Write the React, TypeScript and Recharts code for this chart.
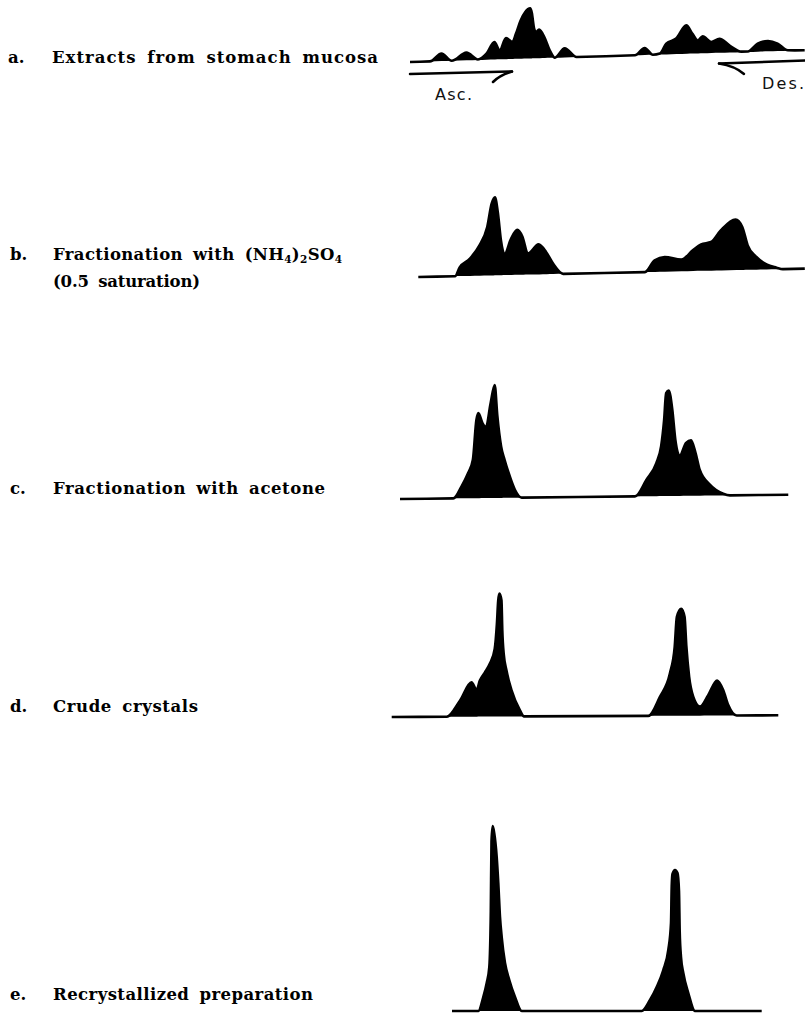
import { AreaChart, Area, XAxis, YAxis } from 'recharts'

// Migration distance (0–420 along the strip) and optical density for each stage of purification.

// a. extracts from stomach mucosa
const aDist = [25, 45, 56.7, 66.7, 81.7, 93, 101.7, 110, 115, 121.7, 128, 131.7, 136.7, 141.7, 146.7, 148.3, 150, 151.7, 155, 160, 165, 170, 180, 191.7, 250, 260, 268, 275, 281.7, 291.7, 302.3, 308, 313.3, 318.3, 326.7, 335, 345, 356.7, 363, 373, 383.3, 393, 403, 420]
const aDens = [0, 0, 7.5, 0, 7.7, 0.5, 6, 17.5, 9, 21, 17, 25, 38, 46.5, 50, 45, 30, 26, 28.5, 21, 7.6, 0, 9, 0, 0, 7, 0, 1, 10.8, 15.5, 28.5, 20, 13, 17, 11, 14, 7, 0.5, 0.5, 8, 10.4, 7.5, 0.5, 0]

// b. ammonium sulfate cut
const bDist = [33.3, 70, 75, 85, 95, 103.3, 108.3, 111.7, 114.3, 116.7, 120, 126.7, 133.3, 138.3, 143.3, 154.3, 161.7, 168.3, 178.3, 260, 270, 280, 296.7, 308.3, 316.7, 326.7, 336.7, 351.7, 358.3, 363.3, 371.7, 381.7, 391.7, 398, 420]
const bDens = [0, 0, 9, 17, 30, 48.5, 72, 78, 62, 35, 21, 36, 45, 38, 21, 30, 22, 10.5, 0, 0, 11.6, 14.6, 11.7, 20.7, 26.5, 28.6, 40, 50.5, 43, 24.5, 12.7, 5, 1.6, 0, 0]

// c. acetone cut
const cDist = [15, 68.3, 76.7, 83.3, 88.3, 92.3, 94.3, 98.3, 101.7, 106.7, 111, 113.3, 116.7, 120, 125, 130, 136.7, 250, 261.7, 271.7, 276.7, 280, 282.3, 285, 288.3, 291, 295, 301.7, 306.7, 311, 315, 325, 338.3, 345, 403.3]
const cDens = [0, 0, 12, 25, 38.5, 78.5, 85, 75, 71, 95, 113, 81.5, 51.5, 38, 21.5, 8, 0, 0, 16.6, 33, 50, 76.5, 103, 105.6, 86, 56, 40, 53, 55.4, 43, 26, 11, 1.7, 0, 0]

// d. crude crystals
const dDist = [6.7, 61.7, 75, 86.7, 91.7, 95, 100, 105, 110, 112.3, 113.7, 115, 117, 117.7, 119, 121.7, 126.7, 135, 139, 263.3, 275, 285, 290, 292.3, 296.7, 300, 301.7, 304.3, 308.3, 315, 323.3, 332.3, 338.3, 343.3, 351.7, 393.3]
const dDens = [0, 0, 16, 34.3, 26.7, 36, 44, 52.7, 67.7, 92.7, 116, 123, 116, 86, 62.7, 46, 26, 6, 0, 0, 19, 42, 69, 99, 107, 99, 69, 39, 19, 9, 20.5, 35, 25.5, 10.5, 0, 0]

// e. recrystallized
const eDist = [67, 93.3, 98.3, 101.7, 104.3, 105.8, 106.5, 107.7, 109.2, 111.7, 113.3, 115, 116.7, 120, 124.3, 130, 136.7, 256.7, 265, 271.7, 278.3, 283.3, 286, 286.7, 287.5, 290, 292.5, 294, 294.7, 296, 298.3, 303.3, 310, 376.7]
const eDens = [0, 0, 14, 28, 44, 100, 170, 185, 178, 154, 128, 94, 74, 48, 31, 14, 0, 0, 11, 24, 41, 61, 88, 125, 137, 141, 138, 120, 80, 54, 38, 18, 0, 0]

const serif = '"DejaVu Serif", serif'
const sans = '"DejaVu Sans", sans-serif'

interface StripProps {
  dist: number[]
  dens: number[]
  top: number
  height: number
  tilt: number
}

// one electrophoresis pattern; the area's own stroke along zero draws the strip baseline
function Strip({ dist, dens, top, height, tilt }: StripProps) {
  const rows = dist.map((d, i) => ({ d, v: dens[i] }))
  return (
    <div
      style={{
        position: 'absolute',
        left: 385,
        top,
        transform: `rotate(${tilt}deg)`,
        transformOrigin: `${dist[0]}px ${height - 4}px`,
      }}
    >
      <AreaChart width={420} height={height} data={rows} margin={{ top: 0, right: 0, bottom: 0, left: 0 }}>
        <XAxis type="number" dataKey="d" domain={[0, 420]} hide />
        <YAxis type="number" domain={[-4, height - 4]} hide />
        <Area
          type="monotone"
          dataKey="v"
          stroke="#000"
          strokeWidth={2.6}
          fill="#000"
          fillOpacity={1}
          dot={false}
          activeDot={false}
          isAnimationActive={false}
        />
      </AreaChart>
    </div>
  )
}

export default function App() {
  return (
    <div style={{ position: 'absolute', left: 0, top: 0, width: 805, height: 1013, overflow: 'hidden', background: '#fff' }}>
      <Strip dist={aDist} dens={aDens} top={1.7} height={64} tilt={-1.7} />
      <Strip dist={bDist} dens={bDens} top={190.7} height={90} tilt={-1.24} />
      <Strip dist={cDist} dens={cDens} top={379.3} height={124} tilt={-0.63} />
      <Strip dist={dDist} dens={dDens} top={590.7} height={130} tilt={-0.25} />
      <Strip dist={eDist} dens={eDens} top={820} height={195} tilt={0} />

      <svg width={805} height={1013} style={{ position: 'absolute', left: 0, top: 0 }}>
        <g fontFamily={serif} fontSize={16.5} fontWeight="bold" fill="#000" wordSpacing={4}>
          <text x={8} y={63.3}>a.</text>
          <text x={52} y={63.3} textLength={326} lengthAdjust="spacing">Extracts from stomach mucosa</text>

          <text x={10} y={260}>b.</text>
          <text x={53} y={260} textLength={289} lengthAdjust="spacing">
            Fractionation with (NH<tspan fontSize={10.5} dy={3}>4</tspan>
            <tspan dy={-3}>)</tspan>
            <tspan fontSize={10.5} dy={3}>2</tspan>
            <tspan dy={-3}>SO</tspan>
            <tspan fontSize={10.5} dy={3}>4</tspan>
          </text>
          <text x={53} y={287} textLength={147} lengthAdjust="spacing">(0.5 saturation)</text>

          <text x={10} y={494}>c.</text>
          <text x={53} y={494} textLength={272} lengthAdjust="spacing">Fractionation with acetone</text>

          <text x={10} y={712}>d.</text>
          <text x={53} y={712} textLength={145} lengthAdjust="spacing">Crude crystals</text>

          <text x={10} y={1000}>e.</text>
          <text x={53} y={1000} textLength={260} lengthAdjust="spacing">Recrystallized preparation</text>
        </g>

        {/* direction of migration */}
        <g stroke="#000" strokeWidth={2.5} fill="none" strokeLinecap="round">
          <path d="M410,74 L512,71.5" />
          <path d="M493,82 Q500,75 512,71.5" />
          <path d="M805,60.5 L719,63.5" />
          <path d="M719,63.5 Q735,66 744,74" />
        </g>
        <g fontFamily={sans} fontSize={16} fill="#111">
          <text x={435} y={100} textLength={37} lengthAdjust="spacing">Asc.</text>
          <text x={762} y={89} textLength={42} lengthAdjust="spacing">Des.</text>
        </g>
      </svg>
    </div>
  )
}
